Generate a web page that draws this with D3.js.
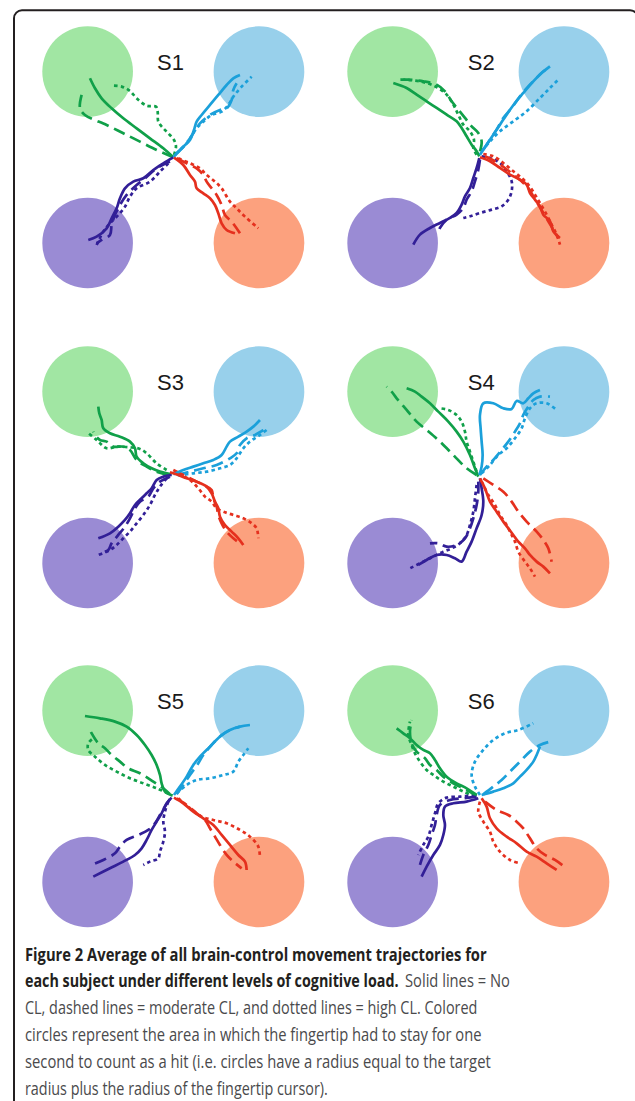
<!DOCTYPE html>
<html>
<head>
<meta charset="utf-8">
<script src="https://cdn.jsdelivr.net/npm/d3@7"></script>
<style>
  html, body { margin: 0; padding: 0; background: #ffffff; }
  svg { display: block; }
</style>
</head>
<body>
<svg id="fig" width="635" height="1101"></svg>
<script>
// Workspace units: target centres sit at (±257, ±257) from the start point.
const subjects = ["S1", "S2", "S3", "S4", "S5", "S6"];
const conditions = ["No CL", "Moderate CL", "High CL"];
const directions = ["upLeft", "upRight", "downLeft", "downRight"];
const targetCenters = [[-257, 257], [257, 257], [-257, -257], [257, -257]];
const targetRadius = 136;

// Average trajectories, one entry per direction: [No CL, moderate CL, high CL]
const s1 = {
  upLeft: [
    [[0,0],[-30,27],[-70,57],[-110,87],[-150,117],[-185,147],[-215,177],[-235,207],[-250,237]],
    [[0,0],[-50,22],[-100,47],[-150,72],[-200,97],[-265,127],[-280,147],[-275,187]],
    [[2,7],[8,32],[2,52],[-15,72],[-30,87],[-45,107],[-47,137],[-52,152],[-80,155],[-110,177],[-130,199],[-155,212],[-185,215]]
  ],
  upRight: [
    [[0,0],[25,27],[50,52],[62,82],[70,107],[85,127],[110,157],[135,187],[160,217],[180,237],[200,247]],
    [[5,7],[35,37],[60,72],[80,102],[110,127],[140,142],[160,147],[175,172],[180,202],[190,222]],
    [[10,12],[40,42],[70,87],[90,107],[115,127],[145,137],[165,157],[180,182],[205,212],[235,242]]
  ],
  downLeft: [
    [[0,0],[-30,-18],[-60,-38],[-90,-63],[-120,-73],[-145,-93],[-160,-123],[-170,-153],[-185,-183],[-200,-213],[-230,-238],[-255,-248]],
    [[-10,-13],[-50,-33],[-85,-63],[-110,-83],[-140,-113],[-160,-143],[-175,-173],[-185,-203],[-190,-233],[-215,-248],[-230,-258]],
    [[-15,-18],[-40,-43],[-70,-73],[-110,-93],[-130,-118],[-145,-148],[-165,-173],[-190,-198],[-210,-223],[-230,-263]]
  ],
  downRight: [
    [[2,-1],[30,-23],[50,-53],[65,-73],[70,-93],[90,-108],[110,-123],[125,-143],[135,-168],[145,-198],[160,-218],[185,-228]],
    [[10,-3],[40,-18],[70,-33],[90,-53],[100,-73],[115,-93],[130,-113],[145,-143],[155,-173],[175,-193],[200,-228]],
    [[15,-3],[50,-18],[80,-33],[100,-53],[125,-73],[145,-93],[170,-133],[190,-153],[215,-178],[255,-213]]
  ]
};

const s2 = {
  upLeft: [
    [[3,3],[-5,18],[-20,38],[-35,63],[-50,88],[-65,108],[-95,128],[-125,148],[-155,168],[-185,188],[-215,208],[-255,223]],
    [[5,18],[10,48],[0,73],[-20,93],[-40,118],[-60,143],[-80,168],[-100,198],[-125,218],[-165,228],[-210,233],[-235,233]],
    [[-5,8],[-15,28],[-13,53],[-25,78],[-45,98],[-60,128],[-75,158],[-95,188],[-130,213],[-175,228],[-225,233]]
  ],
  upRight: [
    [[5,8],[25,38],[45,68],[65,98],[85,128],[110,163],[135,193],[165,228],[190,253],[215,273]],
    [[15,23],[35,53],[55,83],[75,118],[100,148],[125,183],[150,213],[170,233],[195,258],[215,268]],
    [[10,18],[35,48],[65,78],[105,108],[145,138],[185,178],[215,208],[240,233]]
  ],
  downLeft: [
    [[3,-2],[-5,-32],[-15,-62],[-25,-92],[-40,-117],[-50,-142],[-65,-167],[-85,-182],[-115,-197],[-145,-212],[-175,-232],[-195,-262]],
    [[5,-7],[0,-37],[-10,-72],[-20,-102],[-35,-127],[-45,-152],[-65,-172],[-95,-187],[-115,-212],[-120,-227]],
    [[10,3],[35,-2],[65,-17],[85,-42],[100,-72],[100,-102],[90,-127],[70,-147],[40,-157],[5,-167],[-25,-177],[-45,-182]]
  ],
  downRight: [
    [[5,0],[35,-12],[65,-32],[95,-52],[125,-67],[145,-82],[155,-107],[170,-127],[185,-147],[195,-172],[215,-192],[225,-222],[245,-242]],
    [[20,3],[50,-12],[80,-32],[105,-52],[130,-72],[150,-92],[165,-117],[180,-142],[195,-167],[210,-192],[225,-217],[240,-242]],
    [[15,10],[45,3],[75,-17],[105,-42],[130,-62],[150,-82],[170,-112],[185,-137],[205,-172],[220,-202],[235,-232],[245,-262]]
  ]
};

const s3 = {
  upLeft: [
    [[-5,9],[-40,17],[-65,27],[-90,42],[-110,62],[-115,87],[-130,107],[-160,122],[-190,132],[-210,147],[-215,172],[-222,192],[-225,212]],
    [[-15,7],[-50,17],[-80,32],[-110,52],[-130,82],[-150,92],[-180,92],[-200,107],[-220,112],[-235,127],[-240,137]],
    [[-20,22],[-50,42],[-80,72],[-100,85],[-130,90],[-170,92],[-200,87],[-230,112],[-260,137]]
  ],
  upRight: [
    [[0,9],[30,22],[60,32],[90,42],[120,52],[145,67],[160,92],[170,107],[195,122],[220,137],[240,152],[260,172]],
    [[10,7],[50,17],[90,27],[130,37],[170,57],[190,72],[200,97],[220,117],[245,127],[270,142]],
    [[15,5],[60,12],[100,17],[140,27],[170,37],[190,57],[210,87],[230,107],[260,127],[280,142]]
  ],
  downLeft: [
    [[-5,7],[-30,2],[-50,-8],[-65,-33],[-80,-48],[-95,-63],[-115,-83],[-130,-108],[-145,-128],[-165,-148],[-190,-168],[-225,-183]],
    [[-10,2],[-40,-13],[-60,-33],[-75,-58],[-100,-73],[-115,-93],[-130,-123],[-145,-148],[-165,-173],[-185,-198],[-195,-218],[-220,-228]],
    [[-20,-3],[-40,-28],[-55,-53],[-70,-83],[-90,-113],[-110,-138],[-130,-163],[-150,-183],[-170,-203],[-190,-218],[-225,-233]]
  ],
  downRight: [
    [[-10,15],[15,7],[40,-3],[70,-13],[100,-28],[115,-48],[125,-73],[135,-93],[140,-118],[155,-143],[175,-163],[195,-183],[210,-203]],
    [[0,22],[30,7],[60,-8],[90,-23],[115,-38],[120,-63],[130,-88],[135,-113],[145,-138],[160,-163],[180,-183],[200,-198]],
    [[15,12],[50,-8],[75,-33],[95,-58],[115,-73],[130,-93],[150,-103],[180,-113],[210,-123],[235,-138],[250,-153],[255,-183]]
  ]
};

const s4 = {
  upLeft: [
    [[0,2],[-10,27],[-25,67],[-45,107],[-65,137],[-90,167],[-120,197],[-145,222],[-170,242],[-190,257],[-215,267]],
    [[-5,7],[-35,27],[-75,67],[-115,107],[-155,142],[-185,167],[-215,202],[-245,237],[-260,257],[-275,272]],
    [[-5,17],[-15,47],[-25,77],[-35,107],[-40,137],[-50,167],[-65,187],[-90,202],[-115,207]]
  ],
  upRight: [
    [[3,7],[10,32],[13,67],[10,107],[7,147],[5,187],[15,222],[45,222],[75,207],[100,205],[115,229],[135,222],[150,237],[165,252],[185,262]],
    [[5,7],[25,32],[45,52],[70,82],[90,107],[110,137],[125,162],[135,187],[150,212],[165,232],[185,242],[215,242]],
    [[10,12],[35,37],[60,67],[85,87],[110,117],[130,147],[140,177],[155,207],[175,222],[205,222],[235,202]]
  ],
  downLeft: [
    [[5,-3],[10,-33],[15,-73],[10,-113],[-5,-153],[-20,-193],[-35,-223],[-50,-253],[-70,-243],[-95,-233],[-125,-233],[-155,-248],[-180,-263]],
    [[0,-13],[0,-43],[-5,-83],[-15,-123],[-25,-153],[-40,-183],[-65,-203],[-95,-208],[-120,-198],[-145,-198]],
    [[-5,-23],[-10,-63],[-15,-103],[-25,-143],[-35,-173],[-55,-198],[-80,-213],[-105,-223],[-135,-238],[-165,-253],[-205,-273]]
  ],
  downRight: [
    [[5,-3],[20,-33],[35,-73],[55,-103],[75,-133],[90,-153],[105,-173],[120,-193],[140,-213],[155,-233],[175,-253],[195,-268],[215,-288]],
    [[15,-3],[45,-23],[75,-43],[100,-73],[120,-103],[145,-133],[175,-163],[195,-188],[210,-213],[220,-253]],
    [[10,-13],[30,-53],[50,-83],[65,-113],[85,-143],[100,-173],[110,-193],[120,-223],[140,-253],[155,-273],[170,-298]]
  ]
};

const s5 = {
  upLeft: [
    [[-2,2],[-25,14],[-35,39],[-40,64],[-50,94],[-65,124],[-85,154],[-110,184],[-140,209],[-175,224],[-220,234],[-265,241]],
    [[-10,6],[-30,24],[-60,44],[-100,69],[-135,84],[-160,104],[-185,124],[-205,144],[-225,159],[-245,189],[-250,199]],
    [[-15,9],[-50,24],[-90,39],[-130,54],[-170,74],[-205,94],[-235,119],[-255,139],[-255,159],[-240,174]]
  ],
  upRight: [
    [[2,4],[20,29],[40,59],[60,94],[80,119],[110,149],[140,179],[170,199],[200,209],[230,214]],
    [[10,6],[30,34],[50,64],[75,99],[90,124],[115,154],[145,184],[170,199],[200,209]],
    [[10,9],[40,34],[70,49],[110,54],[150,64],[180,74],[195,104],[210,124],[225,144]]
  ],
  downLeft: [
    [[-5,-4],[-20,-21],[-35,-51],[-50,-76],[-65,-101],[-80,-131],[-95,-156],[-115,-176],[-150,-196],[-190,-216],[-240,-241]],
    [[-10,-8],[-25,-31],[-40,-56],[-55,-81],[-75,-101],[-105,-116],[-140,-131],[-160,-151],[-175,-171],[-210,-191],[-245,-206]],
    [[-15,-16],[-25,-46],[-30,-76],[-25,-106],[-30,-136],[-40,-166],[-45,-186],[-70,-196],[-90,-206]]
  ],
  downRight: [
    [[2,-4],[30,-21],[60,-46],[90,-66],[120,-86],[145,-116],[170,-146],[195,-176],[215,-196],[220,-221]],
    [[10,-6],[40,-26],[70,-51],[95,-71],[110,-96],[125,-121],[140,-146],[160,-176],[180,-196],[205,-216]],
    [[15,-6],[50,-36],[85,-61],[120,-71],[160,-81],[200,-101],[230,-121],[255,-151],[260,-186]]
  ]
};

const s6 = {
  upLeft: [
    [[-5,4],[-35,24],[-65,39],[-95,59],[-115,84],[-130,109],[-145,129],[-165,139],[-185,154],[-205,174],[-225,189],[-245,204]],
    [[-5,2],[-35,19],[-75,39],[-105,59],[-125,79],[-145,94],[-160,114],[-185,134],[-200,159],[-205,194],[-200,229]],
    [[-10,-1],[-45,14],[-75,29],[-105,44],[-135,64],[-155,79],[-175,104],[-190,129],[-200,154],[-210,184],[-205,224]]
  ],
  upRight: [
    [[10,4],[45,14],[75,24],[105,39],[125,59],[145,79],[165,104],[175,124],[185,149]],
    [[15,6],[45,29],[70,49],[95,74],[125,104],[155,134],[185,154],[215,164]],
    [[5,4],[-10,29],[-20,64],[-10,104],[15,139],[45,169],[80,189],[120,199],[165,219]]
  ],
  downLeft: [
    [[0,-6],[-35,-16],[-75,-21],[-100,-31],[-105,-56],[-100,-86],[-105,-116],[-115,-146],[-135,-176],[-155,-211],[-170,-241]],
    [[-5,-1],[-45,-6],[-85,-11],[-115,-26],[-125,-56],[-130,-86],[-140,-116],[-150,-146],[-165,-176],[-175,-206]],
    [[-10,4],[-55,-1],[-95,-4],[-120,-21],[-130,-51],[-140,-86],[-150,-121],[-165,-146],[-180,-176]]
  ],
  downRight: [
    [[10,-6],[25,-31],[35,-66],[55,-96],[85,-121],[115,-141],[145,-166],[175,-181],[205,-201],[235,-221]],
    [[20,-16],[55,-41],[90,-56],[115,-76],[135,-96],[155,-126],[175,-156],[200,-176],[230,-191],[265,-216]],
    [[5,-16],[0,-46],[15,-76],[35,-106],[45,-136],[65,-166],[95,-191],[125,-201]]
  ]
};

const trajectories = [s1, s2, s3, s4, s5, s6];

const captionLines = [
  [{ text: "Figure 2 Average of all brain-control movement trajectories for", bold: true }],
  [{ text: "each subject under different levels of cognitive load.", bold: true },
   { text: "Solid lines = No", bold: false }],
  [{ text: "CL, dashed lines = moderate CL, and dotted lines = high CL. Colored", bold: false }],
  [{ text: "circles represent the area in which the fingertip had to stay for one", bold: false }],
  [{ text: "second to count as a hit (i.e. circles have a radius equal to the target", bold: false }],
  [{ text: "radius plus the radius of the fingertip cursor).", bold: false }]
];

// ---- styling ----
const targetFill = ["#a1e6a3", "#98d0eb", "#9a8bd4", "#fca17e"];
const lineColor = ["#10a049", "#1ba0da", "#321f97", "#e5301e"];
const dashFor = ["none", "12,6", "3.5,3.2"];

const svg = d3.select("#fig");

// frame around the figure
svg.append("path")
  .attr("d", "M14,1110 V18.3 A8,8 0 0 1 22,10.3 H630 A8,8 0 0 1 638,18.3 V1110")
  .attr("fill", "none")
  .attr("stroke", "#231f20")
  .attr("stroke-width", 2);

const panelCols = [173.3, 478.3];
const panelRows = [157.3, 477.3, 796.3];
const halfSpan = 100;   // pixels for 300 workspace units
const labelShift = [-2.8, 2.9];

const line = d3.line().curve(d3.curveCatmullRom.alpha(0.5));

subjects.forEach((name, i) => {
  const col = i % 2, row = Math.floor(i / 2);
  const cx = panelCols[col], cy = panelRows[row];
  const x = d3.scaleLinear().domain([-300, 300]).range([cx - halfSpan, cx + halfSpan]);
  const y = d3.scaleLinear().domain([-300, 300]).range([cy + halfSpan, cy - halfSpan]);
  const g = svg.append("g").attr("class", "panel");

  g.selectAll("circle.target")
    .data(targetCenters)
    .join("circle")
    .attr("class", "target")
    .attr("cx", d => x(d[0]))
    .attr("cy", d => y(d[1]))
    .attr("r", x(targetRadius) - x(0))
    .attr("fill", (d, k) => targetFill[k]);

  g.append("text")
    .attr("x", cx + labelShift[col])
    .attr("y", y(262))
    .attr("text-anchor", "middle")
    .attr("font-family", "Liberation Sans, Arial, sans-serif")
    .attr("font-size", 22)
    .attr("fill", "#1a1a1a")
    .text(name);

  line.x(p => x(p[0])).y(p => y(p[1]));

  const paths = [];
  directions.forEach((dir, k) => {
    trajectories[i][dir].forEach((pts, c) => {
      paths.push({ pts, k, c });
    });
  });
  // draw dotted first, then dashed, solid last
  paths.sort((a, b) => b.c - a.c);

  g.selectAll("path.traj")
    .data(paths)
    .join("path")
    .attr("class", "traj")
    .attr("d", d => line(d.pts))
    .attr("fill", "none")
    .attr("stroke", d => lineColor[d.k])
    .attr("stroke-width", 2.7)
    .attr("stroke-linejoin", "round")
    .attr("stroke-dasharray", d => dashFor[d.c]);
});

// caption: each run is squeezed horizontally to its column span
const cap = svg.append("g").attr("class", "caption");
const capY0 = 960.5, capLead = 26.85;
const spans = [
  [[25, 487]],
  [[25, 399], [405, 510]],
  [[25, 478]],
  [[25, 482]],
  [[25, 491]],
  [[25, 328]]
];
captionLines.forEach((parts, li) => {
  parts.forEach((p, pi) => {
    const [x0, x1] = spans[li][pi];
    const t = cap.append("text")
      .attr("x", 0)
      .attr("y", 0)
      .attr("font-family", "Open Sans, Noto Sans, sans-serif")
      .attr("font-size", 17.5)
      .attr("font-weight", p.bold ? 700 : 400)
      .attr("fill", p.bold ? "#231f20" : "#4a4a4c")
      .text(p.text);
    const w = t.node().getComputedTextLength();
    const sx = (x1 - x0) / w;
    t.attr("transform", `translate(${x0},${capY0 + li * capLead}) scale(${sx},1)`);
  });
});
</script>
</body>
</html>
